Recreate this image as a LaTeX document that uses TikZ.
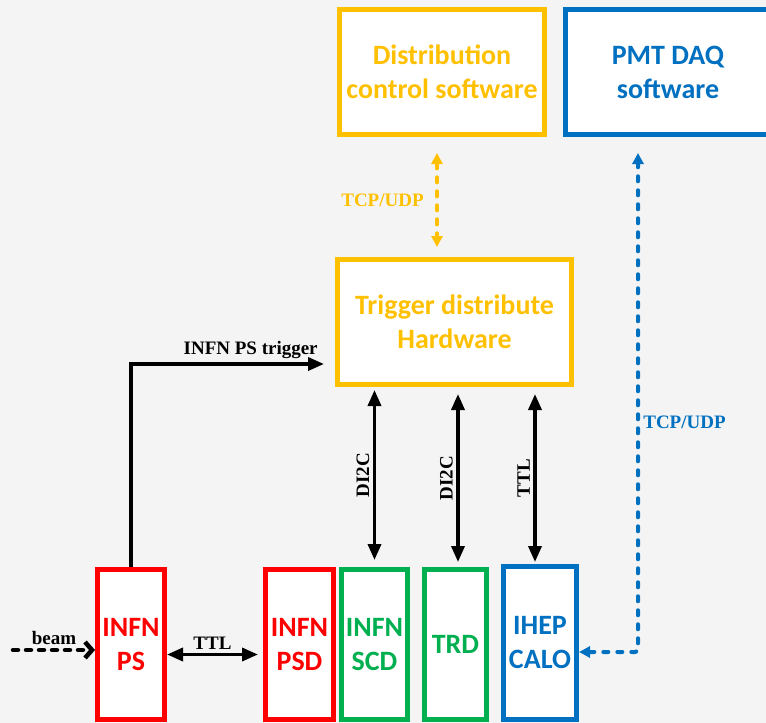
\documentclass[tikz,border=0pt]{standalone}
\usepackage{fontspec}
\setmainfont{Liberation Serif}
\newfontfamily\boxfont{Carlito}
\usetikzlibrary{arrows.meta,calc,positioning}
\definecolor{bgGray}{HTML}{F4F4F4}
\definecolor{ctlYellow}{HTML}{FFC000}
\definecolor{daqBlue}{HTML}{0070C0}
\definecolor{infnRed}{HTML}{FF0000}
\definecolor{detGreen}{HTML}{00B050}
\tikzset{
	unitbox/.style={draw=#1,line width=5pt,fill=white,text=#1,inner sep=2pt,align=center,anchor=center,
		font=\boxfont\bfseries\fontsize{28}{34}\selectfont},
	lbl/.style={font=\bfseries\fontsize{19}{21}\selectfont},
	sig/.style={line width=3.5pt,>={Triangle[length=16pt,width=13pt]}},
	tcp/.style={line width=4pt,dash pattern=on 5pt off 9pt,line cap=round,line join=round,
		>={Triangle[length=11pt,width=11pt]}},
	beamline/.style={line width=4.5pt,dash pattern=on 5pt off 8pt,line cap=round,line join=round,
		-{Straight Barb[length=7pt,width=16pt]}},
}
\begin{document}
\begin{tikzpicture}[x=1pt,y=1pt]
				\useasboundingbox[fill=bgGray] (0,0) rectangle (766,-723);
				
				% software
				\node (dist) at (442,-72) [unitbox=ctlYellow,minimum width=205pt,minimum height=125pt] {Distribution\\control software};
				\node (pmt) at (668,-72) [unitbox=daqBlue,minimum width=205pt,minimum height=125pt] {PMT DAQ\\software};
				
				% hardware
				\node (trig) at (454.5,-322) [unitbox=ctlYellow,minimum width=234pt,minimum height=125pt] {Trigger distribute\\Hardware};
				
				% detectors
				\node (ps) at (131,-644.5) [unitbox=infnRed,minimum width=67pt,minimum height=150pt] {INFN\\PS};
				\node (psd) at (299.5,-644.5) [unitbox=infnRed,minimum width=68pt,minimum height=150pt] {INFN\\PSD};
				\node (scd) at (374.5,-644.5) [unitbox=detGreen,minimum width=66pt,minimum height=150pt] {INFN\\SCD};
				\node (trd) at (455.5,-644.5) [unitbox=detGreen,minimum width=62pt,minimum height=150pt] {TRD};
				\node (calo) at (540,-643) [unitbox=daqBlue,minimum width=73pt,minimum height=153pt] {IHEP\\CALO};
				
				\coordinate (beamsrc) at (13,-650);
				\draw[beamline] (beamsrc) -- (ps.west |- beamsrc) node[midway,above,lbl] {beam};
				
				\draw[sig,<->] ($(ps.east)+(0,-10)$) -- ($(psd.west)+(-5,-10)$) node[midway,above,lbl] {TTL};
				\draw[sig,->] (ps.north) |- ($(trig.west)+(-11,-42)$) node[pos=0.81,above,lbl] {INFN PS trigger};
				
				\draw[sig,<->] ($(scd.north)+(0,7)$) -- ($(scd.north |- trig.south)+(0,-3)$) node[midway,rotate=90,above,lbl] {DI2C};
				\draw[sig,<->] ($(trd.north)+(2.5,5)$) -- ($(trd.north |- trig.south)+(2.5,-7)$) node[midway,rotate=90,above,lbl] {DI2C};
				\draw[sig,<->] ($(calo.north)+(-5,2)$) -- ($(calo.north |- trig.south)+(-5,-7)$) node[midway,rotate=90,above,lbl] {TTL};
				
				\draw[tcp,draw=ctlYellow,<->] ($(dist.south)+(-5,-16)$) -- ($(dist.south |- trig.north)+(-5,10)$) node[midway,left=8pt,lbl,text=ctlYellow] {TCP/UDP};
				\draw[tcp,draw=daqBlue,<->,rounded corners=3pt] ($(calo.east)+(0,-9)$) -| ($(pmt.south)+(-30,-16)$) node[pos=0.73,right,lbl,text=daqBlue] {TCP/UDP};
				
				\end{tikzpicture}
\end{document}
